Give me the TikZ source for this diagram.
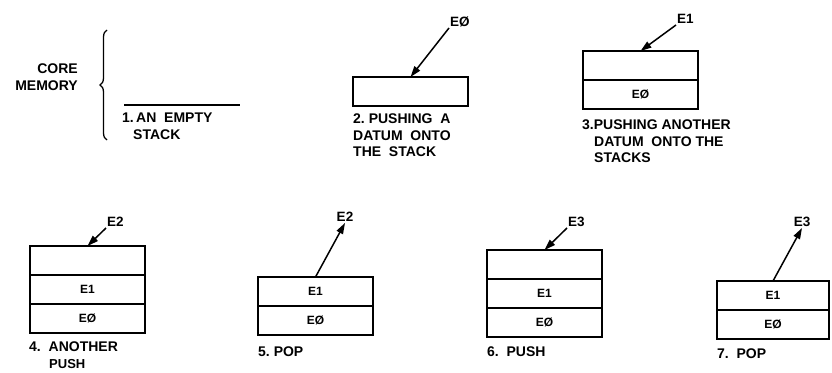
\documentclass[tikz,border=0pt]{standalone}
\usepackage{fontspec}
\setmainfont{Liberation Sans}
\usetikzlibrary{positioning,arrows.meta,decorations.pathreplacing}

\begin{document}
\begin{tikzpicture}[
          x=1pt, y=-1pt,
          lbl/.style={font=\fontsize{14}{16.5}\selectfont\bfseries, align=left, anchor=north west, inner sep=0pt},
          tag/.style={font=\fontsize{13.5}{14}\selectfont\bfseries, inner sep=1pt},
          cell/.style={draw, line width=2.2pt, minimum width=115pt, minimum height=29pt,
                       inner sep=0pt, outer sep=0pt, font=\fontsize{12}{13}\selectfont\bfseries},
          ptr/.style={line width=1.5pt, -{Triangle[length=11pt,width=7pt]}},
          memline/.style={line width=2pt}
      ]
        \useasboundingbox (0,0) rectangle (832,372);
        % 1. empty stack
        \node[lbl, anchor=north east, align=right] (core) at (78,64) {CORE\\MEMORY};
        \draw[line width=1.3pt, decorate, decoration={brace, amplitude=7pt}] (107,140) -- (107,30);
        \coordinate (m0) at (124,105);
        \coordinate (m1) at (240,105);
        \draw[memline] (m0) -- (m1);
        \node[lbl] (cap1) at (122,113) {1.\,AN~~EMPTY\\\hspace*{11pt}STACK};
        % 2. one datum
        \node[cell, anchor=north west] (b2) at (353,77) {};
        \node[tag, anchor=south west] (t2) at (449,28) {EØ};
        \draw[ptr] (t2.south west) -- (b2.north);
        \node[lbl] (cap2) at (353,114) {2.~PUSHING~~A\\DATUM~~ONTO\\THE~~STACK};
        % 3. two data
        \node[cell, anchor=south west] (b3a) at (583,109) {EØ};
        \node[cell, above=0pt of b3a] (b3b) {};
        \node[tag, anchor=south west] (t3) at (676,25) {E1};
        \draw[ptr] (t3.south west) -- (b3b.north);
        \node[lbl] (cap3) at (582,120) {3.PUSHING ANOTHER\\\hspace*{12pt}DATUM~~ONTO THE\\\hspace*{12pt}STACKS};
        % 4. another push
        \node[cell, anchor=south west] (b4a) at (30,333) {EØ};
        \node[cell, above=0pt of b4a] (b4b) {E1};
        \node[cell, above=0pt of b4b] (b4c) {};
        \node[tag, anchor=south west] (t4) at (106,228) {E2};
        \draw[ptr] (t4.south west) -- (b4c.north);
        \node[lbl] (cap4) at (29,342) {4.~~ANOTHER\\\hspace*{20pt}{\fontsize{13}{17}\selectfont PUSH}};
        % 5. pop
        \node[cell, anchor=south west] (b5a) at (258,335) {EØ};
        \node[cell, above=0pt of b5a] (b5b) {E1};
        \node[tag] (t5) at (345,217) {E2};
        \draw[ptr] (b5b.north) -- (t5.south);
        \node[lbl] (cap5) at (258,347) {5.~POP};
        % 6. push
        \node[cell, anchor=south west] (b6a) at (487,337) {EØ};
        \node[cell, above=0pt of b6a] (b6b) {E1};
        \node[cell, above=0pt of b6b] (b6c) {};
        \node[tag, anchor=south west] (t6) at (567,228) {E3};
        \draw[ptr] (t6.south west) -- (b6c.north);
        \node[lbl] (cap6) at (487,347) {6.~~PUSH};
        % 7. pop
        \node[cell, anchor=south west, minimum width=112pt] (b7a) at (717,339) {EØ};
        \node[cell, above=0pt of b7a, minimum width=112pt] (b7b) {E1};
        \node[tag] (t7) at (802,222) {E3};
        \draw[ptr] (b7b.north) -- (t7.south);
        \node[lbl] (cap7) at (717,349) {7.~~POP};
      \end{tikzpicture}
\end{document}
